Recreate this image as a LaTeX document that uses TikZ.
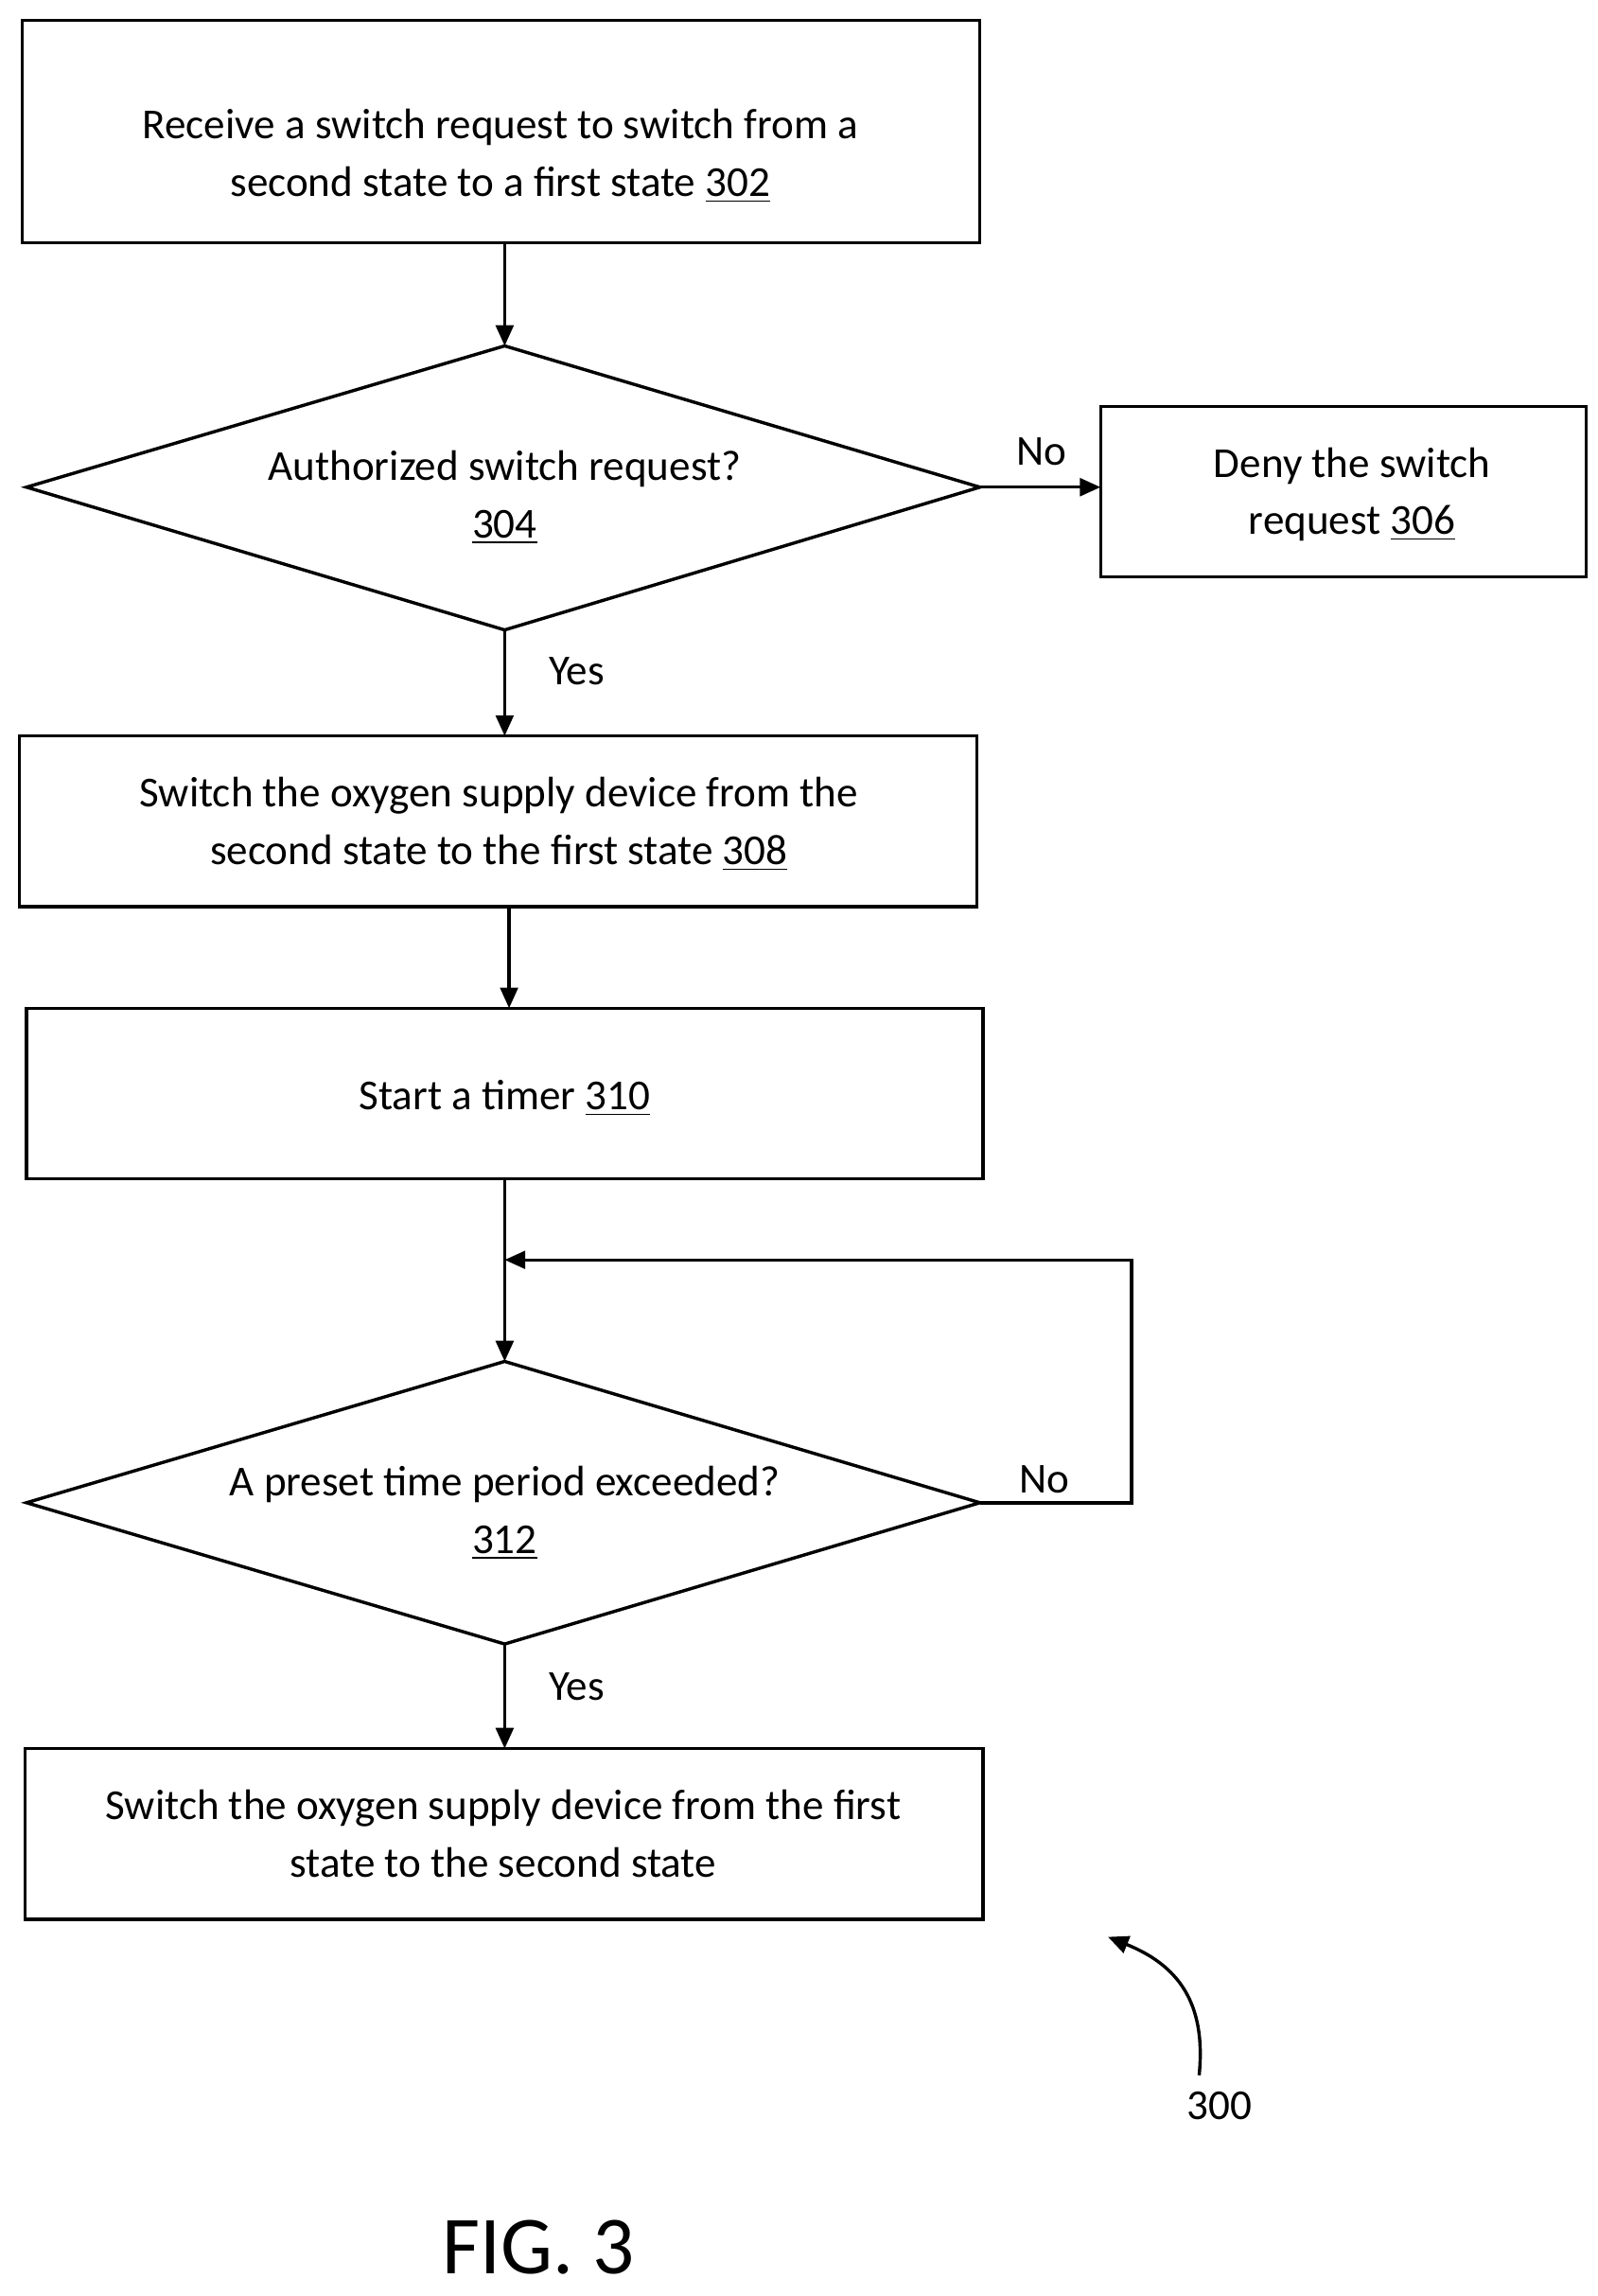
\documentclass[tikz,border=0pt]{standalone}
\usepackage{fontspec}
\setmainfont{Carlito}
\usetikzlibrary{arrows.meta}
\begin{document}
\begin{tikzpicture}[x=0.5pt,y=-0.5pt,
 box/.style={draw,line width=1.1pt,inner sep=0pt},
 txt/.style={align=center,font=\fontsize{14.5}{19.5}\selectfont},
 lab/.style={font=\fontsize{14.5}{16}\selectfont},
 arr/.style={line width=1.1pt,-{Triangle[length=7pt,width=6pt]}}]
\useasboundingbox (0,0) rectangle (1086,1560);
\draw[box] (15,14) rectangle (666,165);
\node[txt] (b302) at (340,106) {Receive a switch request to switch from a\\second state to a first state \underline{302}};
\draw[box] (18,331) -- (343,235) -- (666,331) -- (343,428) -- cycle;
\node[txt] (d304) at (343,338) {Authorized switch request?\\\underline{304}};
\draw[box] (748,276) rectangle (1078,392);
\node[txt] (b306) at (919,336) {Deny the switch\\request \underline{306}};
\draw[box] (13,500) rectangle (664,616);
\node[txt] (b308) at (339,560) {Switch the oxygen supply device from the\\second state to the first state \underline{308}};
\draw[box] (18,685) rectangle (668,801);
\node[txt] (b310) at (343,746) {Start a timer \underline{310}};
\draw[box] (18,1021) -- (343,925) -- (666,1021) -- (343,1117) -- cycle;
\node[txt] (d312) at (343,1028) {A preset time period exceeded?\\\underline{312}};
\draw[box] (17,1188) rectangle (668,1304);
\node[txt] (b314) at (342,1246) {Switch the oxygen supply device from the first\\state to the second state};
\coordinate (a1) at (343,165); \coordinate (a2) at (343,235);
\draw[arr] (a1) -- (a2);
\coordinate (n1) at (666,331); \coordinate (n2) at (748,331);
\draw[arr] (n1) -- (n2);
\node[lab] at (708,307) {No};
\coordinate (y1) at (343,428); \coordinate (y2) at (343,500);
\draw[arr] (y1) -- (y2);
\node[lab] at (392,456) {Yes};
\coordinate (c1) at (346,616); \coordinate (c2) at (346,685);
\draw[arr] (c1) -- (c2);
\coordinate (t1) at (343,801); \coordinate (t2) at (343,925);
\draw[arr] (t1) -- (t2);
\coordinate (r1) at (666,1021); \coordinate (r2) at (769,1021); \coordinate (r3) at (769,856); \coordinate (r4) at (343,856);
\draw[arr] (r1) -- (r2) -- (r3) -- (r4);
\node[lab] at (710,1005) {No};
\coordinate (e1) at (343,1117); \coordinate (e2) at (343,1188);
\draw[arr] (e1) -- (e2);
\node[lab] at (392,1146) {Yes};
\coordinate (p1) at (815,1410); \coordinate (p2) at (753,1316);
\draw[arr] (p1) .. controls (820,1360) and (800,1335) .. (p2);
\node[lab] at (829,1431) {300};
\node[font=\fontsize{28}{34}\selectfont] at (366,1527) {FIG. 3};
\end{tikzpicture}
\end{document}
